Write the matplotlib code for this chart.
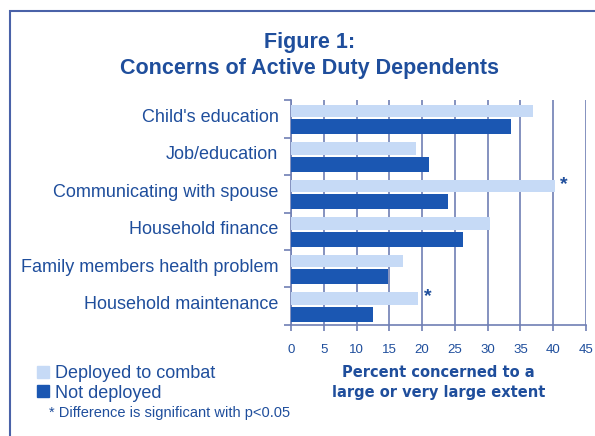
import matplotlib
matplotlib.use("Agg")
import matplotlib.pyplot as plt
import matplotlib.patches as mpatches
import numpy as np

categories = ["Child's education", "Job/education", "Communicating with spouse",
              "Household finance", "Family members health problem", "Household maintenance"]
deployed = [36.9, 19.1, 40.2, 30.4, 17.1, 19.4]
not_deployed = [33.6, 21.1, 23.9, 26.2, 14.8, 12.5]
significant = [False, False, True, False, False, True]
xticks = [0, 5, 10, 15, 20, 25, 30, 35, 40, 45]

TXT = "#1f4e9c"
LIGHT = "#c6daf6"
DARK = "#1b57b2"
GRID = "#6f7fb4"

plt.rcParams['font.family'] = ['Liberation Sans', 'DejaVu Sans']

fig = plt.figure(figsize=(5.95, 4.36), dpi=100)
ax = fig.add_axes([0.489, 0.2546, 0.496, 0.516])

n = len(categories)
y = np.arange(n)[::-1].astype(float)
h = 0.4
ax.barh(y + h / 2 + 0.01, deployed, height=h - 0.06, color=LIGHT, zorder=3)
ax.barh(y - h / 2 - 0.01, not_deployed, height=h, color=DARK, zorder=3)

for yi, d, s in zip(y, deployed, significant):
    if s:
        ax.text(d + 1.4, yi + h / 2 + 0.05, "*", color=TXT, fontsize=14, fontweight='bold',
                ha='center', va='center', zorder=4)

ax.set_xlim(0, 45)
ax.set_ylim(-0.5, n - 0.5)
ax.set_xticks(xticks)
ax.set_xticklabels([str(t) for t in xticks], color=TXT, fontsize=9.5)
ax.set_yticks(y + 0.1)
ax.set_yticklabels(categories, color=TXT, fontsize=13)
ax.set_yticks(np.arange(n + 1) - 0.5, minor=True)
ax.tick_params(axis='y', which='major', length=0, pad=9)
ax.tick_params(axis='y', which='minor', length=5, color=GRID, width=1.2, direction='out')
ax.tick_params(axis='x', length=4, color=GRID, width=1.2, pad=10)
ax.grid(axis='x', color=GRID, linewidth=1.2, zorder=0)
for s in ['top', 'right']:
    ax.spines[s].set_visible(False)
for s in ['left', 'bottom']:
    ax.spines[s].set_color(GRID)
    ax.spines[s].set_linewidth(1.2)

ax.set_xlabel("Percent concerned to a\nlarge or very large extent", color=TXT,
              fontsize=10.5, fontweight='bold', family='DejaVu Sans', linespacing=1.45, labelpad=6)

fig.text(0.52, 0.902, "Figure 1:", color=TXT, fontsize=15.5, fontweight='bold', ha='center', va='center')
fig.text(0.52, 0.842, "Concerns of Active Duty Dependents", color=TXT, fontsize=15.5,
         fontweight='bold', ha='center', va='center')

handles = [mpatches.Patch(color=LIGHT, label="Deployed to combat"),
           mpatches.Patch(color=DARK, label="Not deployed")]
fig.legend(handles=handles, loc='upper left', bbox_to_anchor=(0.063, 0.163), frameon=False,
           fontsize=13, handlelength=0.65, handleheight=0.65, handletextpad=0.3,
           labelspacing=0.15, labelcolor=TXT, borderpad=0, borderaxespad=0)
fig.text(0.083, 0.053, "* Difference is significant with p<0.05", color=TXT, fontsize=10.5, va='center')

fig.patches.append(mpatches.Rectangle((10 / 595, -0.1), 1.2, 1 - 11 / 436 + 0.1,
                                      transform=fig.transFigure, fill=False,
                                      edgecolor="#4a62a8", linewidth=1.5))

fig.savefig("out.png", dpi=100)
